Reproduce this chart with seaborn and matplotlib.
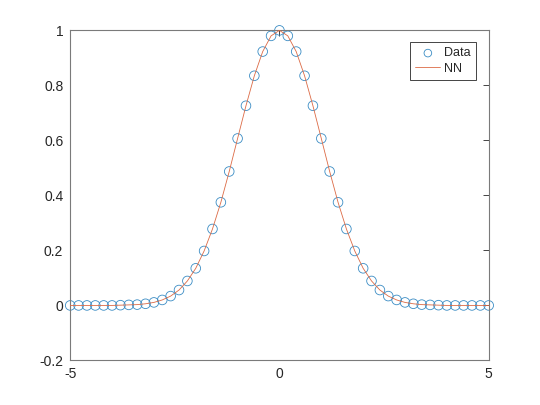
import numpy as np
import pandas as pd
import matplotlib
matplotlib.use("Agg")
import matplotlib.pyplot as plt
import seaborn as sns

# sample points, -5 to 5 in steps of 0.2
x_vals = [round(-5 + 0.2 * i, 1) for i in range(51)]

# target values (bell curve)
half = [1.000, 0.980, 0.923, 0.835, 0.726, 0.607, 0.487, 0.375, 0.278, 0.198,
        0.135, 0.089, 0.056, 0.034, 0.020, 0.011, 0.006, 0.003, 0.002, 0.001,
        0.000, 0.000, 0.000, 0.000, 0.000, 0.000]
data_y = half[:0:-1] + half

# network output, sits on top of the data
nn_y = [0.000, 0.000, 0.000, 0.000, 0.000, 0.000, 0.001, 0.002, 0.003, 0.006,
        0.011, 0.020, 0.034, 0.056, 0.089, 0.135, 0.198, 0.278, 0.375, 0.487,
        0.607, 0.726, 0.835, 0.923, 0.980, 1.000, 0.980, 0.923, 0.835, 0.726,
        0.607, 0.487, 0.375, 0.278, 0.198, 0.135, 0.089, 0.056, 0.034, 0.020,
        0.011, 0.006, 0.003, 0.002, 0.001, 0.000, 0.000, 0.000, 0.000, 0.000,
        0.000]

df = pd.DataFrame({"x": x_vals, "data": data_y, "nn": nn_y})

sns.set_style("white")
plt.rcParams["font.family"] = ["Liberation Sans", "DejaVu Sans"]

fig = plt.figure(figsize=(5.4, 4.05), dpi=100)
ax = fig.add_axes([0.13, 0.11, 0.775, 0.815])

sns.scatterplot(data=df, x="x", y="data", ax=ax, marker="o", s=48,
                facecolor="none", edgecolor="#3a8cc4", linewidth=0.6,
                label="Data", zorder=2, clip_on=False)
sns.lineplot(data=df, x="x", y="nn", ax=ax, color="#dc6a45", linewidth=0.6,
             label="NN", zorder=3)

ax.set_xlim(-5, 5)
ax.set_ylim(-0.2, 1)
ax.set_xticks([-5, 0, 5])
ax.set_xticklabels(["-5", "0", "5"])
yt = [-0.2, 0, 0.2, 0.4, 0.6, 0.8, 1]
ax.set_yticks(yt)
ax.set_yticklabels(["-0.2", "0", "0.2", "0.4", "0.6", "0.8", "1"])
ax.set_xlabel("")
ax.set_ylabel("")

ax.tick_params(direction="in", length=4, width=0.6, colors="#262626",
               labelsize=10, top=True, right=True, pad=5)
for s in ax.spines.values():
    s.set_color("#7a7a7a")
    s.set_linewidth(0.8)

leg = ax.legend(loc="upper right", bbox_to_anchor=(0.978, 0.975), fontsize=9,
                frameon=True, fancybox=False, framealpha=1,
                edgecolor="#262626", handlelength=2.0, borderpad=0.4,
                labelspacing=0.25, handletextpad=0.3, borderaxespad=0.3)
leg.get_frame().set_linewidth(0.6)
for h in leg.legend_handles[:1]:
    h.set_sizes([30])

fig.savefig("out.png", dpi=100)
